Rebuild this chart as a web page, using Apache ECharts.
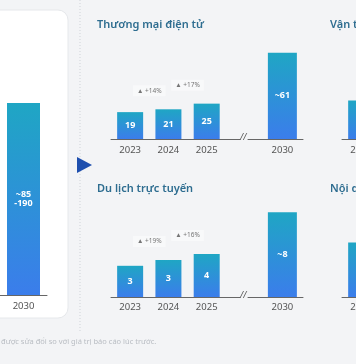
<!DOCTYPE html>
<html>
<head>
<meta charset="utf-8">
<script src="https://cdn.jsdelivr.net/npm/echarts@6/dist/echarts.min.js"></script>
<style>html,body{margin:0;padding:0;background:#f3f4f6;}#c{width:356px;height:364px;}</style>
</head>
<body>
<div id="c"></div>
<script>
// ---- data ----
const years = ['2023', '2024', '2025'];
const yearFuture = ['2030'];
const totalValue2030 = [190];
const totalLabel2030 = ['~85\n-190'];
const ecomValues = [19, 21, 25];
const ecomLabels = ['19', '21', '25'];
const ecom2030 = [61];
const ecom2030Label = ['~61'];
const ecomGrowth = ['▲ +14%', '▲ +17%'];
const travelValues = [3.2, 3.8, 4.4];
const travelLabels = ['3', '3', '4'];
const travel2030 = [8.7];
const travel2030Label = ['~8'];
const travelGrowth = ['▲ +19%', '▲ +16%'];
const transportValues = [3.9];
const mediaValues = [5.6];
const titles = ['Thương mại điện tử', 'Du lịch trực tuyến', 'Vận tải & giao đồ ăn', 'Nội dung số'];
const footnote = 'được sửa đổi so với giá trị báo cáo lúc trước.';

// ---- styling ----
const FONT = 'Noto Sans';
const grad = () => new echarts.graphic.LinearGradient(0, 0, 0, 1, [
  {offset: 0, color: '#1fa6c4'}, {offset: 1, color: '#3b7deb'}
]);
const axisLineStyle = {show: true, lineStyle: {color: '#666', width: 1}};
const yearLabel = (margin) => ({color: '#555', fontSize: 9.5, fontFamily: FONT, margin: margin});

function valueX(grid, min, max, cats, margin) {
  return {
    type: 'value', gridIndex: grid, min: min, max: max,
    axisLine: axisLineStyle, axisTick: {show: false}, splitLine: {show: false},
    axisLabel: Object.assign(yearLabel(margin), {
      customValues: cats.map((c, i) => i),
      formatter: v => cats[Math.round(v)] || ''
    })
  };
}
function hiddenY(grid, max) {
  return {type: 'value', gridIndex: grid, min: 0, max: max, show: false, splitLine: {show: false}};
}
function bars(xi, yi, values, labels, width) {
  return {
    type: 'bar', xAxisIndex: xi, yAxisIndex: yi, barWidth: width,
    data: values.map((v, i) => [i, v]),
    itemStyle: {color: grad()},
    label: labels ? {
      show: true, position: 'inside', color: '#fff', fontSize: 9, fontWeight: 'bold', fontFamily: FONT,
      formatter: p => labels[p.dataIndex]
    } : {show: false},
    silent: true, animation: false
  };
}
function growth(xi, yi, values, texts) {
  return {
    type: 'scatter', xAxisIndex: xi, yAxisIndex: yi, symbolSize: 0,
    data: texts.map((t, i) => [i + 0.5, Math.max(values[i], values[i + 1])]),
    label: {
      show: true, position: 'top', distance: 13, color: '#555', fontSize: 6.5, fontFamily: FONT,
      backgroundColor: 'rgba(255,255,255,0.55)', padding: [2, 4],
      formatter: p => texts[p.dataIndex]
    },
    silent: true, animation: false
  };
}
function grid(left, top, width, height) {
  return {left: left, top: top, width: width, height: height, outerBoundsMode: 'none', containLabel: false};
}

const chart = echarts.init(document.getElementById('c'), null, {renderer: 'canvas'});
const titleStyle = {color: '#2e6d90', fontSize: 11, fontWeight: 600, fontFamily: FONT};

chart.setOption({
  backgroundColor: '#f3f4f6',
  animation: false,
  title: [
    {text: titles[0], left: 97, top: 19, padding: 0, textStyle: titleStyle},
    {text: titles[1], left: 97, top: 183, padding: 0, textStyle: titleStyle},
    {text: titles[2], left: 330, top: 19, padding: 0, textStyle: titleStyle},
    {text: titles[3], left: 330, top: 183, padding: 0, textStyle: titleStyle}
  ],
  grid: [
    grid(0, 93, 47, 202),
    grid(111, 40, 129, 99),
    grid(248, 40, 55, 99),
    grid(111, 199.5, 129, 97.5),
    grid(248, 199.5, 55, 97.5),
    grid(342, 40, 100, 99),
    grid(342, 199.5, 100, 97.5)
  ],
  xAxis: [
    {type: 'category', gridIndex: 0, data: yearFuture, axisLine: axisLineStyle, axisTick: {show: false}, axisLabel: yearLabel(6)},
    valueX(1, -0.5, 2.87, years, 6),
    valueX(2, -1, 0.6, yearFuture, 6),
    valueX(3, -0.5, 2.87, years, 5),
    valueX(4, -1, 0.6, yearFuture, 5),
    valueX(5, -0.5, 2.11, years.slice(0, 1), 6),
    valueX(6, -0.5, 2.11, years.slice(0, 1), 5)
  ],
  yAxis: [
    hiddenY(0, 200), hiddenY(1, 70), hiddenY(2, 70), hiddenY(3, 10), hiddenY(4, 10), hiddenY(5, 10), hiddenY(6, 10)
  ],
  series: [
    Object.assign(bars(0, 0, totalValue2030, totalLabel2030, 33), {data: totalValue2030}),
    bars(1, 1, ecomValues, ecomLabels, 26),
    bars(2, 2, ecom2030, ecom2030Label, 29),
    growth(1, 1, ecomValues, ecomGrowth),
    bars(3, 3, travelValues, travelLabels, 26),
    bars(4, 4, travel2030, travel2030Label, 29),
    growth(3, 3, travelValues, travelGrowth),
    bars(5, 5, transportValues, null, 26),
    bars(6, 6, mediaValues, null, 26)
  ],
  graphic: [
    {type: 'rect', z: -10, shape: {x: -12, y: 10, width: 80, height: 308, r: 10},
     style: {fill: '#ffffff', stroke: '#e6e8eb', lineWidth: 1}},
    {type: 'line', z: -9, shape: {x1: 80, y1: 0, x2: 80, y2: 332},
     style: {stroke: '#cfd3d8', lineWidth: 1, lineDash: [1, 2]}},
    {type: 'polygon', z: 5, shape: {points: [[77, 157], [92, 165], [77, 173]]},
     style: {fill: '#1e4fae'}},
    {type: 'text', z: 5, x: 240, y: 133, style: {text: '//', fill: '#555', font: 'italic 9px ' + FONT}},
    {type: 'text', z: 5, x: 240, y: 291, style: {text: '//', fill: '#555', font: 'italic 9px ' + FONT}},
    {type: 'text', z: 5, x: 1, y: 338, style: {text: footnote, fill: '#b9bdc3', font: '7.5px ' + FONT}}
  ]
});
</script>
</body>
</html>
